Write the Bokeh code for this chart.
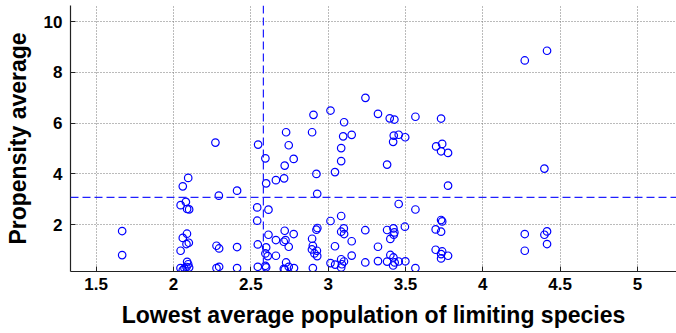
from bokeh.plotting import figure
from bokeh.models import Range1d, FixedTicker, NumeralTickFormatter, Span
from bokeh.embed import file_html
from bokeh.resources import INLINE

# Lowest average population of limiting species (x) and propensity average (y)
x_vals = [
    1.668, 1.668,
    2.095, 2.060, 2.080, 2.046, 2.088, 2.101, 2.087, 2.060, 2.099, 2.084, 2.046,
    2.088, 2.095, 2.084, 2.101, 2.045, 2.060, 2.071,
    2.271, 2.293, 2.411, 2.278, 2.295, 2.411, 2.278, 2.295, 2.411,
    2.547, 2.594, 2.599, 2.541, 2.614, 2.541, 2.614, 2.545, 2.599, 2.594, 2.609,
    2.545, 2.594, 2.599,
    2.728, 2.745, 2.777, 2.719, 2.662, 2.715, 2.719, 2.777, 2.662, 2.713, 2.724,
    2.745, 2.662, 2.713, 2.728, 2.745, 2.779, 2.719,
    2.905, 2.896, 2.924, 2.929, 2.924, 2.930, 2.896, 2.901, 2.895, 2.927, 2.911,
    2.929, 2.901,
    3.015, 3.103, 3.097, 3.152, 3.084, 3.084, 3.044, 3.084, 3.015, 3.101, 3.084,
    3.103, 3.152, 3.044, 3.015, 3.045, 3.084, 3.102, 3.089, 3.084, 3.152,
    3.241, 3.322, 3.398, 3.428, 3.564, 3.424, 3.456, 3.498, 3.420, 3.381, 3.456,
    3.564, 3.240, 3.381, 3.422, 3.428, 3.424, 3.402, 3.496, 3.322, 3.240, 3.322,
    3.381, 3.402, 3.422, 3.430, 3.420, 3.456, 3.499, 3.564,
    3.730, 3.698, 3.737, 3.730, 3.775, 3.775, 3.730, 3.737, 3.695, 3.730, 3.695,
    3.737, 3.730, 3.775, 3.730,
    4.271, 4.415, 4.398, 4.271, 4.398, 4.415, 4.271, 4.415,
]
y_vals = [
    1.751, 0.804,
    3.844, 3.512, 2.900, 2.770, 2.620, 2.604, 1.645, 1.479, 1.289, 1.238, 0.974,
    0.539, 0.441, 0.334, 0.314, 0.291, 0.212, 0.283,
    5.237, 3.145, 3.342, 1.171, 1.064, 1.120, 0.291, 0.342, 0.291,
    5.158, 4.617, 3.630, 2.683, 2.592, 2.158, 1.605, 1.222, 1.104, 0.867, 0.764,
    0.342, 0.381, 0.322,
    5.644, 5.131, 4.594, 4.329, 3.757, 3.828, 1.763, 1.633, 1.396, 1.329, 1.396,
    1.131, 0.776, 0.263, 0.512, 0.342, 0.291, 0.230,
    6.331, 5.644, 4.002, 3.216, 1.803, 1.870, 1.447, 1.171, 1.025, 0.974, 0.867,
    0.764, 0.291,
    6.500, 6.039, 5.482, 5.541, 5.020, 4.507, 4.073, 2.343, 2.146, 1.854, 1.724,
    1.633, 1.349, 1.151, 0.488, 0.429, 0.638, 0.551, 0.441, 0.314, 0.784,
    7.000, 6.370, 6.193, 6.145, 6.256, 5.514, 5.545, 5.447, 5.265, 4.369, 2.817,
    2.600, 1.783, 1.791, 1.854, 1.696, 1.605, 1.439, 1.921, 1.131, 0.512, 0.567,
    0.547, 0.808, 0.709, 0.512, 0.393, 0.551, 0.559, 0.291,
    6.185, 5.087, 5.186, 4.894, 4.831, 3.540, 2.186, 2.130, 1.814, 1.724, 1.013,
    0.946, 0.843, 0.776, 0.670,
    8.474, 8.857, 4.211, 1.633, 1.605, 1.735, 0.974, 1.238,
]

x_threshold = 2.581
y_threshold = 3.08

x_ticks = [1.5, 2, 2.5, 3, 3.5, 4, 4.5, 5]
y_ticks = [2, 4, 6, 8, 10]

FONT = "Liberation Sans"
BLUE = "#0000ff"

p = figure(width=676, height=333, output_backend="svg", toolbar_location=None,
           x_range=Range1d(1.334, 5.252), y_range=Range1d(0.156, 10.64),
           min_border_left=70, min_border_right=0, min_border_top=5,
           min_border_bottom=62)
p.outline_line_color = None
p.background_fill_color = "white"
p.border_fill_color = "white"

p.scatter(x_vals, y_vals, marker="circle", size=7.5, fill_color=None,
          line_color=BLUE, line_width=1.2)

p.add_layout(Span(location=x_threshold, dimension="height", line_color="#2020ff",
                  line_dash="8 4", line_width=1.2))
p.add_layout(Span(location=y_threshold, dimension="width", line_color="#2020ff",
                  line_dash="8 4", line_width=1.2))

for ax in (p.xaxis[0], p.yaxis[0]):
    ax.axis_line_color = "#222222"
    ax.axis_line_width = 1.2
    ax.major_tick_in = 5
    ax.major_tick_out = 0
    ax.major_tick_line_color = "#222222"
    ax.minor_tick_line_color = None
    ax.major_label_text_font = FONT
    ax.major_label_text_font_style = "bold"
    ax.major_label_text_font_size = "17px"
    ax.major_label_text_color = "black"
    ax.axis_label_text_font = FONT
    ax.axis_label_text_font_style = "bold"
    ax.axis_label_text_font_size = "23px"
    ax.axis_label_text_color = "black"

p.xaxis.ticker = FixedTicker(ticks=x_ticks)
p.yaxis.ticker = FixedTicker(ticks=y_ticks)
p.xaxis.formatter = NumeralTickFormatter(format="0.[0]")
p.xaxis.axis_label = "Lowest average population of limiting species"
p.yaxis.axis_label = "Propensity average"
p.xaxis.major_label_standoff = 6
p.yaxis.major_label_standoff = 8
p.xaxis.axis_label_standoff = 9
p.yaxis.axis_label_standoff = 10

for g in (p.xgrid[0], p.ygrid[0]):
    g.grid_line_color = "#777777"
    g.grid_line_dash = "1 2"
    g.grid_line_width = 1

open("out.html", "w").write(file_html(p, INLINE))
